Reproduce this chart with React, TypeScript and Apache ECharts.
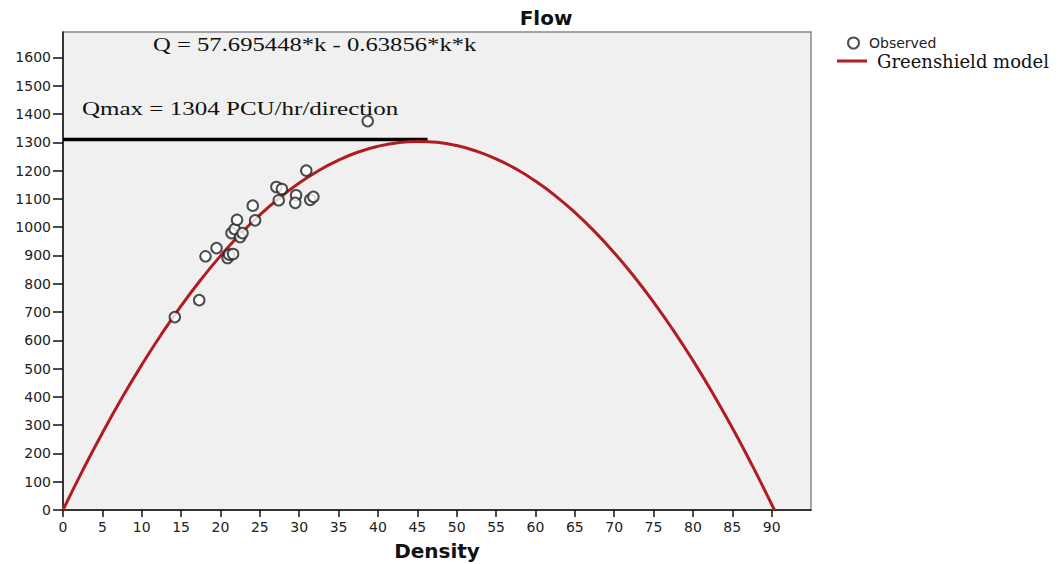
import React, { useEffect, useRef } from "react";
import * as echarts from "echarts";

const observedDensity = [14.2, 17.3, 18.1, 19.5, 20.9, 21.1, 21.6, 21.4, 21.8, 22.1, 22.5, 22.8, 24.4, 24.1, 27.1, 27.8, 27.4, 29.6, 29.5, 30.9, 31.4, 31.8, 38.7];
const observedFlow = [682, 742, 897, 926, 891, 903, 905, 979, 993, 1026, 965, 979, 1024, 1076, 1142, 1135, 1095, 1113, 1086, 1200, 1097, 1107, 1375];

const modelDensity = [0, 2.5, 5, 7.5, 10, 12.5, 15, 17.5, 20, 22.5, 25, 27.5, 30, 32.5, 35, 37.5, 40, 42.5, 45, 47.5, 50, 52.5, 55, 57.5, 60, 62.5, 65, 67.5, 70, 72.5, 75, 77.5, 80, 82.5, 85, 87.5, 90, 90.35];
const modelFlow = [0, 140.2, 272.5, 396.8, 513.1, 621.4, 721.8, 814.1, 898.5, 974.9, 1043.3, 1103.7, 1156.2, 1200.6, 1237.1, 1265.6, 1286.1, 1298.7, 1303.2, 1299.8, 1288.4, 1269.0, 1241.6, 1206.3, 1162.9, 1111.6, 1052.3, 985.0, 909.7, 826.5, 735.3, 636.1, 528.9, 413.7, 290.5, 159.4, 20.3, 0];

const qmaxLineDensity = [0, 46.3];
const qmaxLineFlow = [1310, 1310];

const xTickValues = [0, 5, 10, 15, 20, 25, 30, 35, 40, 45, 50, 55, 60, 65, 70, 75, 80, 85, 90];
const yTickValues = [0, 100, 200, 300, 400, 500, 600, 700, 800, 900, 1000, 1100, 1200, 1300, 1400, 1500, 1600];

const titleText = "Flow";
const xAxisName = "Density";
const equationText = "Q = 57.695448*k - 0.63856*k*k";
const qmaxText = "Qmax = 1304 PCU/hr/direction";
const seriesNames = ["Observed", "Greenshield model"];

export default function App() {
  const ref = useRef<HTMLDivElement>(null);
  useEffect(() => {
    if (!ref.current) return;
    const chart = echarts.init(ref.current, null, { renderer: "svg" });
    const sans = "'DejaVu Sans', Verdana, sans-serif";
    const serif = "'Liberation Serif', 'Times New Roman', serif";
    const wideSerif = "'DejaVu Serif', serif";
    const red = "#b01c22";
    chart.setOption({
      animation: false,
      backgroundColor: "#ffffff",
      title: {
        text: titleText,
        left: 541,
        top: 3,
        textAlign: "center",
        textStyle: { fontFamily: sans, fontSize: 20, fontWeight: "bold", color: "#111" },
      },
      legend: [
        {
          data: [seriesNames[0]],
          left: 842,
          top: 31,
          itemWidth: 11,
          itemHeight: 11,
          textStyle: { fontFamily: sans, fontSize: 14, color: "#222", padding: [0, 0, 0, 5] },
        },
        {
          data: [{ name: seriesNames[1], icon: "rect" }],
          left: 832,
          top: 47,
          itemWidth: 30,
          itemHeight: 3,
          textStyle: { fontFamily: wideSerif, fontSize: 18, color: "#111", padding: [0, 0, 0, 5] },
        },
      ],
      grid: {
        left: 63,
        top: 32,
        right: 253,
        bottom: 54,
        containLabel: false,
        outerBoundsMode: "none",
        show: true,
        backgroundColor: "#f0f0f0",
        borderColor: "#888",
        borderWidth: 1.5,
      },
      xAxis: {
        type: "value",
        min: 0,
        max: 95,
        interval: 5,
        name: xAxisName,
        nameLocation: "middle",
        nameGap: 31,
        nameTextStyle: { fontFamily: sans, fontSize: 20, fontWeight: "bold", color: "#111" },
        axisLine: { show: true, onZero: false, lineStyle: { color: "#111", width: 1.5 } },
        axisTick: { show: true, length: 7, customValues: xTickValues, lineStyle: { color: "#111", width: 1.5 } },
        axisLabel: {
          fontFamily: sans,
          fontSize: 14,
          color: "#222",
          margin: 10,
          customValues: xTickValues,
          formatter: (v: number) => String(v),
        },
        splitLine: { show: false },
      },
      yAxis: {
        type: "value",
        min: 0,
        max: 1690,
        interval: 100,
        axisLine: { show: true, onZero: false, lineStyle: { color: "#111", width: 1.5 } },
        axisTick: { show: true, length: 10, customValues: yTickValues, lineStyle: { color: "#111", width: 1.5 } },
        axisLabel: {
          fontFamily: sans,
          fontSize: 14,
          color: "#222",
          margin: 12,
          customValues: yTickValues,
          formatter: (v: number) => String(v),
        },
        splitLine: { show: false },
      },
      series: [
        {
          name: seriesNames[0],
          type: "scatter",
          symbol: "emptyCircle",
          symbolSize: 10.5,
          itemStyle: { color: "#222", borderColor: "#222", borderWidth: 1 },
          data: observedDensity.map((d, i) => [d, observedFlow[i]]),
          z: 5,
        },
        {
          name: seriesNames[1],
          type: "line",
          smooth: true,
          symbol: "none",
          lineStyle: { color: red, width: 3 },
          itemStyle: { color: red },
          data: modelDensity.map((d, i) => [d, modelFlow[i]]),
          z: 4,
        },
        {
          name: "Qmax",
          type: "line",
          symbol: "none",
          lineStyle: { color: "#000", width: 3.5 },
          data: qmaxLineDensity.map((d, i) => [d, qmaxLineFlow[i]]),
          z: 3,
        },
      ],
      graphic: [
        {
          type: "text",
          x: 153,
          y: 36,
          scaleX: 1.37,
          z: 10,
          style: { text: equationText, fontFamily: serif, fontSize: 18, fill: "#111", verticalAlign: "top" },
        },
        {
          type: "text",
          x: 82,
          y: 100,
          scaleX: 1.39,
          z: 10,
          style: { text: qmaxText, fontFamily: serif, fontSize: 18, fill: "#111", verticalAlign: "top" },
        },
      ],
    });
    return () => chart.dispose();
  }, []);
  return <div ref={ref} style={{ position: "fixed", left: 0, top: 0, width: 1064, height: 564 }} />;
}
